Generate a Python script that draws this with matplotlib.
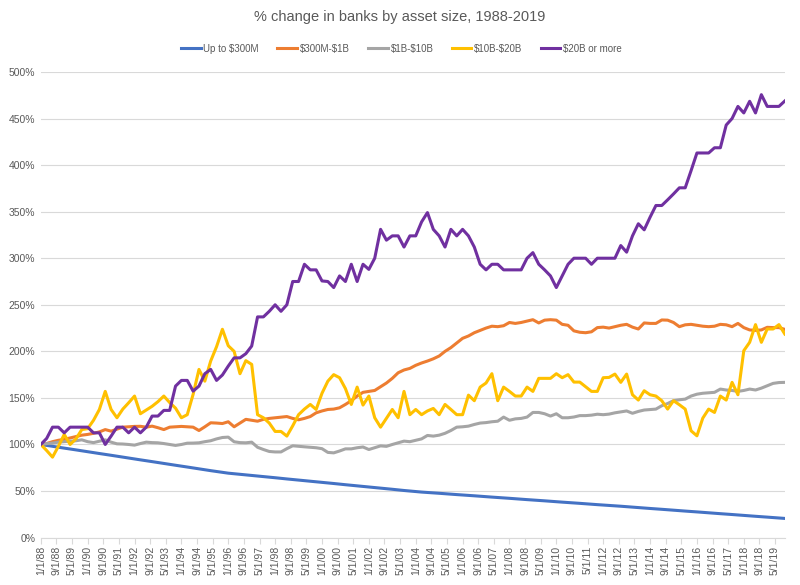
import numpy as np
import matplotlib
matplotlib.use('Agg')
import matplotlib.pyplot as plt

plt.rcParams['font.family'] = ['Liberation Sans Narrow', 'Liberation Sans', 'DejaVu Sans']

# quarterly points, 1/1/88 .. 10/1/19
up_to_300m = [
    100, 99.0, 98.1, 97.1, 96.1, 95.2, 94.2, 93.2, 92.3, 91.3, 90.3, 89.4, 88.4, 87.4, 86.4, 85.5,
    84.5, 83.5, 82.6, 81.6, 80.6, 79.7, 78.7, 77.7, 76.8, 75.8, 74.8, 73.9, 72.9, 71.9, 71.0, 70.0,
    69.2, 68.6, 68.0, 67.4, 66.7, 66.1, 65.5, 64.9, 64.3, 63.6, 63.0, 62.4, 61.8, 61.2, 60.5, 59.9,
    59.3, 58.7, 58.1, 57.4, 56.8, 56.2, 55.6, 55.0, 54.3, 53.7, 53.1, 52.5, 51.9, 51.2, 50.6, 50.0,
    49.4, 48.9, 48.5, 48.0, 47.6, 47.1, 46.7, 46.2, 45.8, 45.3, 44.9, 44.4, 44.0, 43.5, 43.1, 42.6,
    42.2, 41.7, 41.3, 40.8, 40.4, 39.9, 39.5, 39.0, 38.6, 38.1, 37.7, 37.2, 36.8, 36.3, 35.9, 35.4,
    35.0, 34.6, 34.1, 33.7, 33.2, 32.7, 32.3, 31.8, 31.3, 30.9, 30.4, 29.9, 29.5, 29.0, 28.5, 28.1,
    27.6, 27.1, 26.7, 26.2, 25.7, 25.3, 24.8, 24.3, 23.9, 23.4, 22.9, 22.5, 22.0, 21.5, 21.1, 20.6,
]
m300_1b = [
    100, 101, 103, 104.5, 105.5, 107, 108.5, 110, 110.8, 112, 113.5, 116, 114.3, 116.5, 118.6, 119,
    119.4, 119.5, 118.6, 119.7, 118, 116, 118.6, 119, 119.4, 119, 118.6, 115, 119, 123.3, 123, 122.5,
    124.4, 119, 123, 127, 126, 125, 127, 128, 128.7, 129.5, 130, 128, 126.5, 128, 130, 134,
    136, 137.6, 138, 139.4, 143, 147, 152, 156, 157, 158, 162, 166, 171, 177, 180, 181.7,
    185, 187.5, 189.6, 192, 195, 200, 204, 209, 214, 216.5, 220, 222.5, 225, 227, 226.5, 227.5,
    231, 230, 231, 232.5, 234, 230.5, 233.5, 234, 233.5, 229, 228, 222, 220.5, 220, 221, 225.5,
    226, 225, 226.5, 228, 229, 226, 224, 230.5, 230, 230, 233.7, 233.5, 231, 226.5, 228.5, 229,
    228, 227, 226.5, 227, 229, 228.5, 226.5, 230, 225.5, 223, 222.5, 223, 225.8, 225.5, 225.5, 223.6,
]
b1_10b = [
    100, 101, 101.5, 102.5, 103, 103.6, 104, 105, 103, 102, 103.5, 105, 102.5, 100.7, 100.5, 100,
    99.3, 101, 102.5, 102, 101.8, 101, 100, 99, 100, 101.4, 101.5, 101.8, 103, 104, 106, 107.5,
    107.9, 102.9, 102, 101.8, 102.5, 97, 94.6, 92.5, 92, 92, 95.5, 98.6, 98, 97.5, 97, 96.5,
    95.5, 91.5, 91, 93, 95.3, 95.3, 96.5, 97.3, 94.6, 96.5, 98.5, 98, 100, 101.8, 103.6, 103,
    104.5, 106, 109.7, 109, 110, 112, 115, 118.6, 119, 119.7, 121.5, 123, 123.5, 124.4, 125, 129.4,
    126, 127.5, 128, 129.4, 134.4, 134.4, 133, 130.5, 133, 128.7, 128.7, 129.5, 131, 131, 131.5, 132.5,
    132, 132.6, 134, 135, 136, 133.5, 135.5, 137, 137.5, 138, 141.6, 144, 147, 148, 148.7, 152,
    154, 155, 155.5, 156, 159.5, 158.5, 158, 157, 158, 159.5, 158.5, 160.5, 163, 165.6, 166.5, 166.7,
]
b10_20b = [
    100, 93.5, 86.4, 98, 110.8, 100, 106, 116, 117, 126, 137.6, 157, 137.6, 128.7, 138, 144.8,
    152, 133, 137, 141, 146, 152, 145, 139, 128.7, 132, 153.8, 180.6, 168, 189.6, 205, 223.7,
    206, 200, 176, 190, 186, 132, 128.7, 123, 114, 114, 109, 120, 132, 138, 143, 137.6,
    155, 168, 175, 171.7, 160, 143, 161.6, 142.3, 152, 128.7, 118.6, 128, 137.6, 128.7, 157, 132,
    137.6, 132, 136, 138.7, 132, 143, 137.6, 132, 132, 153, 147, 161.6, 166, 176, 147, 161.6,
    157, 152, 152, 161.6, 157, 171, 171, 171, 176, 171.7, 175, 167, 167, 162, 157, 157,
    171.7, 172, 175.6, 166.7, 175.6, 153.4, 147.7, 157.7, 153.4, 152, 147, 138, 147, 142.7, 138, 114.7,
    109.3, 128.3, 138, 134.4, 152, 147.7, 166.7, 153.4, 200.7, 209.7, 228.7, 209.7, 224, 224, 228.7, 218.6,
]
b20_more = [
    100, 106.5, 118.6, 118.6, 112.5, 118.6, 118.6, 118.6, 118.6, 112.5, 112.5, 100, 109, 118.6, 118.6, 112.5,
    118.6, 112.5, 118.6, 130.5, 130.5, 136.6, 136.6, 162.7, 168.8, 168.8, 157.3, 162.7, 176, 180.6, 168.8, 174.6,
    184.2, 193, 193, 197.5, 205.7, 237, 237, 243, 250, 243, 250, 275, 275, 293.5, 287.5, 287.5,
    275.6, 275, 268.5, 281, 275, 293.5, 275, 293.5, 288, 300, 331, 319.4, 324, 324, 312, 324,
    324, 339, 349, 331, 324, 312, 331, 324, 331, 324, 312, 293.5, 287.5, 293.5, 293.5, 287.5,
    287.5, 287.5, 287.5, 300, 306, 293.5, 287.5, 281, 268.5, 281, 293.5, 300, 300, 300, 293.5, 300,
    300, 300, 300, 313.6, 306.5, 324, 337, 330.5, 344, 356.6, 356.6, 362.7, 369, 375.6, 375.6, 394,
    413, 413, 413, 418.6, 418.6, 443, 450, 463, 456, 468.5, 456, 475.6, 463, 463, 463, 468.8,
]

series_names = ['Up to \\$300M', '\\$300M-\\$1B', '\\$1B-\\$10B', '\\$10B-\\$20B', '\\$20B or more']
series_vals = [up_to_300m, m300_1b, b1_10b, b10_20b, b20_more]
colors = ['#4472C4', '#ED7D31', '#A5A5A5', '#FFC000', '#7030A0']

months = np.arange(len(up_to_300m)) * 3  # months since 1/1/88

# tick labels every 8 months
tick_pos = np.arange(0, 377, 8)
tick_labels = []
for m in tick_pos:
    yy = 88 + m // 12
    mm = m % 12 + 1
    tick_labels.append('%d/1/%02d' % (mm, yy % 100))

fig = plt.figure(figsize=(8, 5.85), dpi=100)
ax = fig.add_axes([0.051, 0.081, 0.930, 0.796])

for name, vals, c in zip(series_names, series_vals, colors):
    ax.plot(months, vals, color=c, lw=2.2, label=name, solid_joinstyle='round')

ax.set_xlim(0, 381)
ax.set_ylim(0, 500)
ax.set_yticks(np.arange(0, 501, 50))
ax.set_yticklabels(['%d%%' % v for v in range(0, 501, 50)])
ax.set_xticks(tick_pos)
ax.set_xticklabels(tick_labels, rotation=90)

ax.grid(axis='y', color='#D9D9D9', lw=0.8)
ax.set_axisbelow(True)
for s in ['top', 'right', 'left']:
    ax.spines[s].set_visible(False)
ax.spines['bottom'].set_color('#D9D9D9')
ax.tick_params(axis='y', length=0, labelsize=7.5, labelcolor='#595959', pad=4)
ax.tick_params(axis='x', length=4, color='#D9D9D9', labelsize=7.5, labelcolor='#595959', pad=2)

fig.text(0.5, 0.971, '% change in banks by asset size, 1988-2019', ha='center', va='center',
         fontsize=10.5, color='#595959')
fig.legend(loc='center', bbox_to_anchor=(0.502, 0.917), ncol=5, frameon=False, fontsize=7,
           handlelength=2.0, handletextpad=0.3, columnspacing=1.9, labelcolor='#595959')

fig.savefig('out.png', dpi=100)
